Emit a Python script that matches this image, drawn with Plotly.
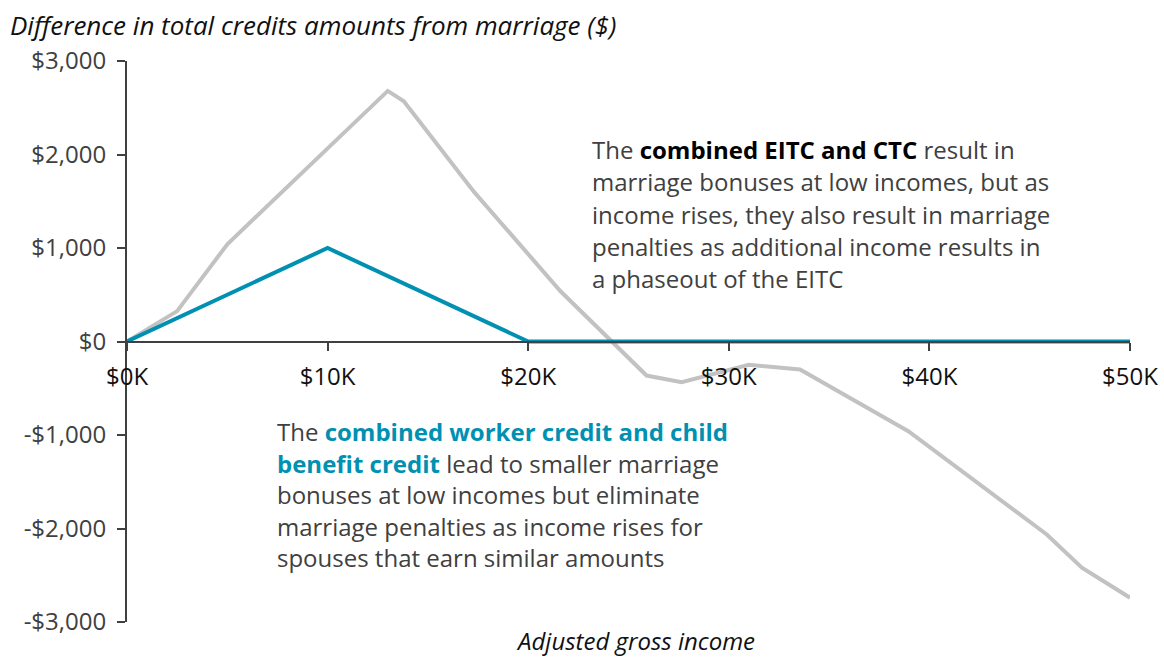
import plotly.graph_objects as go

# income (dollars) and difference in credits from marriage
current_x = [0, 2500, 5000, 13000, 13800, 17300, 21600, 25900, 27650, 31000, 33550, 38950, 45850, 47600, 50000]
current_y = [0, 325, 1040, 2680, 2570, 1600, 540, -364, -435, -250, -300, -960, -2064, -2420, -2740]
proposal_x = [0, 10000, 20000, 50000]
proposal_y = [0, 1000, 0, 0]

y_ticks = [-3000, -2000, -1000, 0, 1000, 2000, 3000]
y_labels = ["-$3,000", "-$2,000", "-$1,000", "$0", "$1,000", "$2,000", "$3,000"]
x_ticks = [0, 10000, 20000, 30000, 40000, 50000]
x_labels = ["$0K", "$10K", "$20K", "$30K", "$40K", "$50K"]

note_eitc = [
    "The <b style='color:#000000'>combined EITC and CTC</b> result in",
    "marriage bonuses at low incomes, but as",
    "income rises, they also result in marriage",
    "penalties as additional income results in",
    "a phaseout of the EITC",
]
note_worker = [
    "The <b style='color:#0090B2'>combined worker credit and child</b>",
    "<b style='color:#0090B2'>benefit credit</b> lead to smaller marriage",
    "bonuses at low incomes but eliminate",
    "marriage penalties as income rises for",
    "spouses that earn similar amounts",
]

GRAY = "#C2C2C2"
TEAL = "#0090B2"
TEXT = "#404040"
FONT = "Open Sans"

W, H = 1164, 658
ML, MR, MT, MB = 127, 34, 61, 36

fig = go.Figure()
fig.add_trace(go.Scatter(x=current_x, y=current_y, mode="lines",
                         line=dict(color=GRAY, width=4), cliponaxis=False,
                         hoverinfo="skip"))
fig.add_trace(go.Scatter(x=proposal_x, y=proposal_y, mode="lines",
                         line=dict(color=TEAL, width=4), cliponaxis=False,
                         hoverinfo="skip"))

annotations = []
for i, line in enumerate(note_eitc):
    annotations.append(dict(x=23080, y=2053 - i * 345, xref="x", yref="y",
                            text=line, showarrow=False, xanchor="left",
                            yanchor="middle", font=dict(size=24, color=TEXT, family=FONT)))
for i, line in enumerate(note_worker):
    annotations.append(dict(x=7380, y=-963 - i * 337, xref="x", yref="y",
                            text=line, showarrow=False, xanchor="left",
                            yanchor="middle", font=dict(size=24, color=TEXT, family=FONT)))
annotations.append(dict(x=8 / W, y=1 - 25 / H, xref="paper", yref="paper",
                        xanchor="left", yanchor="middle", showarrow=False,
                        text="<i>Difference in total credits amounts from marriage ($)</i>",
                        font=dict(size=26, color="#111111", family=FONT)))
annotations.append(dict(x=636 / W, y=1 - 641 / H, xref="paper", yref="paper",
                        xanchor="center", yanchor="middle", showarrow=False,
                        text="<i>Adjusted gross income</i>",
                        font=dict(size=24, color="#111111", family=FONT)))

# paper refs above are in whole-figure units; map to plot-area fractions
for a in annotations:
    if a["xref"] == "paper":
        a["x"] = (a["x"] * W - ML) / (W - ML - MR)
        a["y"] = ((a["y"] * H) - MB) / (H - MT - MB)

fig.update_layout(
    width=W, height=H,
    margin=dict(l=ML, r=MR, t=MT, b=MB, autoexpand=False),
    plot_bgcolor="white", paper_bgcolor="white",
    showlegend=False,
    font=dict(family=FONT, size=24, color=TEXT),
    annotations=annotations,
)
fig.update_xaxes(range=[0, 50000], tickvals=x_ticks, ticktext=x_labels,
                 showgrid=False, zeroline=False, showline=True, linecolor="#404040",
                 linewidth=2, ticks="outside", ticklen=8, tickwidth=2, tickcolor="#404040",
                 anchor="free", position=0.5, automargin=False, ticklabelstandoff=6,
                 tickfont=dict(size=24, color="#111111"))
fig.update_yaxes(range=[-3000, 3000], tickvals=y_ticks, ticktext=y_labels,
                 showgrid=False, zeroline=False, showline=True, linecolor="#404040",
                 linewidth=2, ticks="outside", ticklen=8, tickwidth=2, tickcolor="#404040",
                 ticklabelstandoff=6, automargin=False, tickfont=dict(size=24, color=TEXT))

fig.write_html("out.html", config={"displayModeBar": False},
               post_script="document.body.style.margin='0';")
